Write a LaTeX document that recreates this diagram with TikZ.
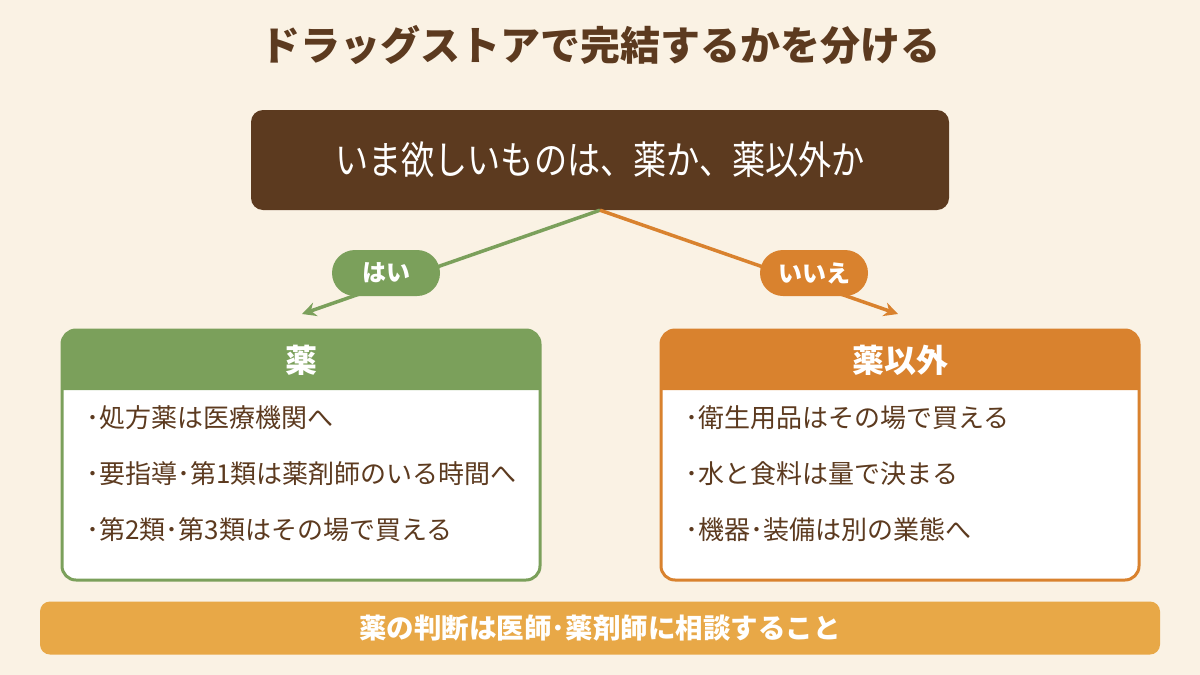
\documentclass[tikz,border=0pt]{standalone}
\usepackage{fontspec}
\setmainfont{Noto Sans CJK JP}
\usetikzlibrary{arrows.meta}
\definecolor{bg}{HTML}{FAF2E4}
\definecolor{brown}{HTML}{5C3A1F}
\definecolor{leaf}{HTML}{7BA05B}
\definecolor{amber}{HTML}{D9822E}
\definecolor{banner}{HTML}{E8A847}
\tikzset{
  titletext/.style={text=brown, font=\fontsize{40}{48}\selectfont\bfseries},
  qbox/.style={fill=brown, rounded corners=12pt, minimum width=698pt, minimum height=100pt, text=white, font=\fontsize{39}{44}\selectfont},
  pill/.style={fill=#1, rounded corners=23pt, minimum width=108pt, minimum height=46pt, text=white, font=\fontsize{24}{28}\selectfont\bfseries, inner sep=0pt},
  panel/.style={draw=#1, line width=3pt, fill=white, rounded corners=14pt, minimum width=478pt, minimum height=250pt},
  headtext/.style={text=white, font=\fontsize{32}{38}\selectfont\bfseries},
  item/.style={text=brown, anchor=west, inner sep=0pt, font=\fontsize{26}{30}\selectfont},
  branch/.style={draw=#1, line width=3.5pt, -{Stealth[length=14pt,width=14pt]}},
  bannerbox/.style={fill=banner, rounded corners=10pt, minimum width=1120pt, minimum height=53pt, text=white, font=\fontsize{27.5}{30}\selectfont\bfseries}
}
\begin{document}
\begin{tikzpicture}[x=1pt,y=-1pt]
\useasboundingbox (0,0) rectangle (1200,675);
\fill[bg] (0,0) rectangle (1200,675);

\node[titletext] (title) at (600,45) {ドラッグストアで完結するかを分ける};

\node[qbox] (q) at (600,160) {\scalebox{0.85}[1]{いま欲しいものは、薬か、薬以外か}};

\coordinate (ltip) at (302,314);
\coordinate (rtip) at (898,314);
\draw[branch=leaf] (q.south) -- (ltip);
\draw[branch=amber] (q.south) -- (rtip);

\node[pill=leaf] (yes) at (386,273) {はい};
\node[pill=amber] (no) at (814,273) {いいえ};

% left panel
\node[panel=leaf] (lp) at (301,455) {};
\fill[leaf] (62,390) {[rounded corners=14pt] -- (62,330) -- (540,330)} -- (540,390) -- cycle;
\node[headtext] (lh) at (301,360) {薬};
\node[item] (l1) at (86,418) {･処方薬は医療機関へ};
\node[item] (l2) at (86,474) {･要指導･第1類は薬剤師のいる時間へ};
\node[item] (l3) at (86,530) {･第2類･第3類はその場で買える};

% right panel
\node[panel=amber] (rp) at (900,455) {};
\fill[amber] (661,390) {[rounded corners=14pt] -- (661,330) -- (1139,330)} -- (1139,390) -- cycle;
\node[headtext] (rh) at (900,360) {薬以外};
\node[item] (r1) at (685,418) {･衛生用品はその場で買える};
\node[item] (r2) at (685,474) {･水と食料は量で決まる};
\node[item] (r3) at (685,530) {･機器･装備は別の業態へ};

\node[bannerbox] (note) at (600,628) {薬の判断は医師･薬剤師に相談すること};
\end{tikzpicture}
\end{document}
